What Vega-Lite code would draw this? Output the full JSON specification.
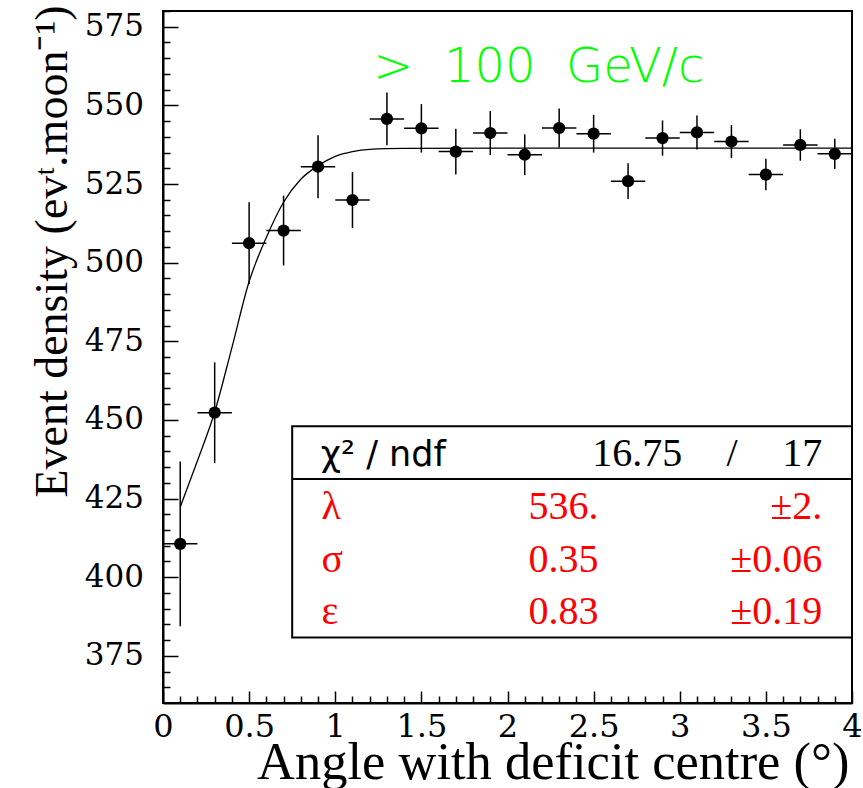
{
  "$schema": "https://vega.github.io/schema/vega-lite/v6.json",
  "autosize": {"type": "none"},
  "padding": {"left": 163, "top": 11, "right": 11, "bottom": 85},
  "width": 689,
  "height": 692,
  "background": "white",
  "config": {
    "view": {"stroke": "black", "strokeWidth": 2},
    "axis": {"grid": false, "domainColor": "black", "domainWidth": 2, "tickColor": "black", "tickWidth": 1.5, "labelColor": "black", "titleColor": "black", "labelFont": "DejaVu Serif", "titleFont": "Liberation Serif", "titleFontWeight": "normal", "labelFlush": false, "labelOverlap": false, "labelBound": false}
  },
  "datasets": {
    "pts": [
      {"angle": 0.1, "density": 410.6, "dx": 0.1, "dy": 26.2},
      {"angle": 0.3, "density": 452.3, "dx": 0.1, "dy": 16.0},
      {"angle": 0.5, "density": 506.2, "dx": 0.1, "dy": 13.0},
      {"angle": 0.7, "density": 510.2, "dx": 0.1, "dy": 11.1},
      {"angle": 0.9, "density": 530.5, "dx": 0.1, "dy": 10.0},
      {"angle": 1.1, "density": 519.9, "dx": 0.1, "dy": 8.9},
      {"angle": 1.3, "density": 545.7, "dx": 0.1, "dy": 8.4},
      {"angle": 1.5, "density": 542.7, "dx": 0.1, "dy": 7.7},
      {"angle": 1.7, "density": 535.3, "dx": 0.1, "dy": 7.3},
      {"angle": 1.9, "density": 541.2, "dx": 0.1, "dy": 7.0},
      {"angle": 2.1, "density": 534.3, "dx": 0.1, "dy": 6.5},
      {"angle": 2.3, "density": 542.8, "dx": 0.1, "dy": 6.2},
      {"angle": 2.5, "density": 541.0, "dx": 0.1, "dy": 6.0},
      {"angle": 2.7, "density": 525.9, "dx": 0.1, "dy": 5.7},
      {"angle": 2.9, "density": 539.6, "dx": 0.1, "dy": 5.6},
      {"angle": 3.1, "density": 541.4, "dx": 0.1, "dy": 5.4},
      {"angle": 3.3, "density": 538.5, "dx": 0.1, "dy": 5.2},
      {"angle": 3.5, "density": 528.0, "dx": 0.1, "dy": 5.0},
      {"angle": 3.7, "density": 537.4, "dx": 0.1, "dy": 5.0},
      {"angle": 3.9, "density": 534.6, "dx": 0.1, "dy": 4.8}
    ],
    "fit": [
      {"angle": 0.1, "density": 422.3},
      {"angle": 0.2, "density": 437.0},
      {"angle": 0.3, "density": 452.5},
      {"angle": 0.4, "density": 473.0},
      {"angle": 0.5, "density": 494.0},
      {"angle": 0.6, "density": 508.0},
      {"angle": 0.7, "density": 519.2},
      {"angle": 0.8, "density": 526.5},
      {"angle": 0.9, "density": 530.8},
      {"angle": 1.0, "density": 533.8},
      {"angle": 1.1, "density": 535.3},
      {"angle": 1.2, "density": 536.0},
      {"angle": 1.4, "density": 536.3},
      {"angle": 2.0, "density": 536.4},
      {"angle": 4.0, "density": 536.4}
    ],
    "box": [{"x0": 0.75, "x1": 4.0, "y0": 380.8, "y1": 448.0, "ysep": 431.2}],
    "stats": [
      {"row": "chi2", "col": "name", "angle": 0.916, "density": 435.5, "t": "χ²\u00a0/\u00a0ndf"},
      {"row": "chi2", "col": "value", "angle": 3.015, "density": 435.5, "t": "16.75"},
      {"row": "chi2", "col": "sep", "angle": 3.303, "density": 435.5, "t": "/"},
      {"row": "chi2", "col": "error", "angle": 3.827, "density": 435.5, "t": "17"},
      {"row": "par", "col": "name", "angle": 0.92, "density": 418.6, "t": "λ"},
      {"row": "par", "col": "value", "angle": 2.528, "density": 418.6, "t": "536."},
      {"row": "par", "col": "error", "angle": 3.827, "density": 418.6, "t": "±2."},
      {"row": "par", "col": "name", "angle": 0.92, "density": 401.7, "t": "σ"},
      {"row": "par", "col": "value", "angle": 2.528, "density": 401.7, "t": "0.35"},
      {"row": "par", "col": "error", "angle": 3.827, "density": 401.7, "t": "±0.06"},
      {"row": "par", "col": "name", "angle": 0.92, "density": 385.0, "t": "ε"},
      {"row": "par", "col": "value", "angle": 2.528, "density": 385.0, "t": "0.83"},
      {"row": "par", "col": "error", "angle": 3.827, "density": 385.0, "t": "±0.19"}
    ],
    "label": [{"angle": 1.22, "density": 557.5, "t": ">\u00a0\u00a0100\u00a0\u00a0GeV/c"}]
  },
  "resolve": {"axis": {"x": "independent", "y": "independent"}},
  "layer": [
    {
      "data": {"name": "fit"},
      "mark": {"type": "line", "color": "black", "strokeWidth": 1.3, "interpolate": "monotone", "clip": true},
      "encoding": {
        "x": {"field": "angle", "type": "quantitative", "scale": {"domain": [0, 4], "nice": false, "zero": false},
          "axis": {"orient": "bottom", "values": [0.1,0.2,0.3,0.4,0.6,0.7,0.8,0.9,1.1,1.2,1.3,1.4,1.6,1.7,1.8,1.9,2.1,2.2,2.3,2.4,2.6,2.7,2.8,2.9,3.1,3.2,3.3,3.4,3.6,3.7,3.8,3.9], "tickSize": -7, "labels": false, "domain": false, "title": null}},
        "y": {"field": "density", "type": "quantitative", "scale": {"domain": [360, 580], "nice": false, "zero": false},
          "axis": {"orient": "left", "values": [365,370,380,385,390,395,405,410,415,420,430,435,440,445,455,460,465,470,480,485,490,495,505,510,515,520,530,535,540,545,555,560,565,570,580], "tickSize": -7, "labels": false, "domain": false, "title": null}}
      }
    },
    {
      "data": {"name": "pts"},
      "mark": {"type": "errorbar", "color": "black", "thickness": 1.5},
      "encoding": {
        "x": {"field": "angle", "type": "quantitative", "axis": null},
        "xError": {"field": "dx"},
        "y": {"field": "density", "type": "quantitative", "axis": null}
      }
    },
    {
      "data": {"name": "pts"},
      "mark": {"type": "errorbar", "color": "black", "thickness": 1.5},
      "encoding": {
        "y": {"field": "density", "type": "quantitative", "axis": null},
        "yError": {"field": "dy"},
        "x": {"field": "angle", "type": "quantitative", "axis": null}
      }
    },
    {
      "data": {"name": "pts"},
      "mark": {"type": "point", "shape": "circle", "filled": true, "color": "black", "opacity": 1, "size": 150},
      "encoding": {
        "x": {"field": "angle", "type": "quantitative",
          "axis": {"orient": "bottom", "values": [0, 0.5, 1, 1.5, 2, 2.5, 3, 3.5, 4], "format": "~g", "tickSize": -12, "labelPadding": 20, "labelFont": "DejaVu Serif", "labelFontSize": 32, "title": "Angle with deficit centre (°)", "titleFont": "Liberation Serif", "titleFontSize": 52.5, "titleAlign": "right", "titleBaseline": "alphabetic", "titleX": 686, "titleY": 75}},
        "y": {"field": "density", "type": "quantitative",
          "axis": {"orient": "left", "values": [375, 400, 425, 450, 475, 500, 525, 550, 575], "tickSize": -15, "labelPadding": 34.5, "labelFont": "DejaVu Serif", "labelFontSize": 31, "title": "Event density (evᵗ.moon⁻¹)", "titleFont": "Liberation Serif", "titleFontSize": 46, "titleAngle": 270, "titleAlign": "right", "titleBaseline": "alphabetic", "titleX": -97, "titleY": -6}}
      }
    },
    {
      "data": {"name": "box"},
      "mark": {"type": "rect", "fill": "white", "stroke": "black", "strokeWidth": 2},
      "encoding": {
        "x": {"field": "x0", "type": "quantitative", "axis": null},
        "x2": {"field": "x1"},
        "y": {"field": "y0", "type": "quantitative", "axis": null},
        "y2": {"field": "y1"}
      }
    },
    {
      "data": {"name": "box"},
      "mark": {"type": "rule", "color": "black", "strokeWidth": 2},
      "encoding": {
        "x": {"field": "x0", "type": "quantitative", "axis": null},
        "x2": {"field": "x1"},
        "y": {"field": "ysep", "type": "quantitative", "axis": null}
      }
    },
    {
      "data": {"name": "stats"},
      "transform": [{"filter": "datum.row == 'chi2' && datum.col == 'name'"}],
      "mark": {"type": "text", "align": "left", "baseline": "alphabetic", "font": "DejaVu Sans", "fontSize": 35, "color": "black"},
      "encoding": {
        "x": {"field": "angle", "type": "quantitative", "axis": null},
        "y": {"field": "density", "type": "quantitative", "axis": null},
        "text": {"field": "t"}
      }
    },
    {
      "data": {"name": "stats"},
      "transform": [{"filter": "datum.row == 'chi2' && datum.col != 'name' && datum.col != 'sep'"}],
      "mark": {"type": "text", "align": "right", "baseline": "alphabetic", "font": "Liberation Serif", "fontSize": 40, "color": "black"},
      "encoding": {
        "x": {"field": "angle", "type": "quantitative", "axis": null},
        "y": {"field": "density", "type": "quantitative", "axis": null},
        "text": {"field": "t"}
      }
    },
    {
      "data": {"name": "stats"},
      "transform": [{"filter": "datum.col == 'sep'"}],
      "mark": {"type": "text", "align": "center", "baseline": "alphabetic", "font": "Liberation Serif", "fontSize": 40, "color": "black"},
      "encoding": {
        "x": {"field": "angle", "type": "quantitative", "axis": null},
        "y": {"field": "density", "type": "quantitative", "axis": null},
        "text": {"field": "t"}
      }
    },
    {
      "data": {"name": "stats"},
      "transform": [{"filter": "datum.row == 'par' && datum.col == 'name'"}],
      "mark": {"type": "text", "align": "left", "baseline": "alphabetic", "font": "Liberation Serif", "fontSize": 40, "color": "#ff0000"},
      "encoding": {
        "x": {"field": "angle", "type": "quantitative", "axis": null},
        "y": {"field": "density", "type": "quantitative", "axis": null},
        "text": {"field": "t"}
      }
    },
    {
      "data": {"name": "stats"},
      "transform": [{"filter": "datum.row == 'par' && datum.col != 'name'"}],
      "mark": {"type": "text", "align": "right", "baseline": "alphabetic", "font": "Liberation Serif", "fontSize": 40, "color": "#ff0000"},
      "encoding": {
        "x": {"field": "angle", "type": "quantitative", "axis": null},
        "y": {"field": "density", "type": "quantitative", "axis": null},
        "text": {"field": "t"}
      }
    },
    {
      "data": {"name": "label"},
      "mark": {"type": "text", "align": "left", "baseline": "alphabetic", "font": "DejaVu Sans", "fontWeight": 200, "fontSize": 48, "color": "#00ff00"},
      "encoding": {
        "x": {"field": "angle", "type": "quantitative", "axis": null},
        "y": {"field": "density", "type": "quantitative", "axis": null},
        "text": {"field": "t"}
      }
    }
  ]
}
